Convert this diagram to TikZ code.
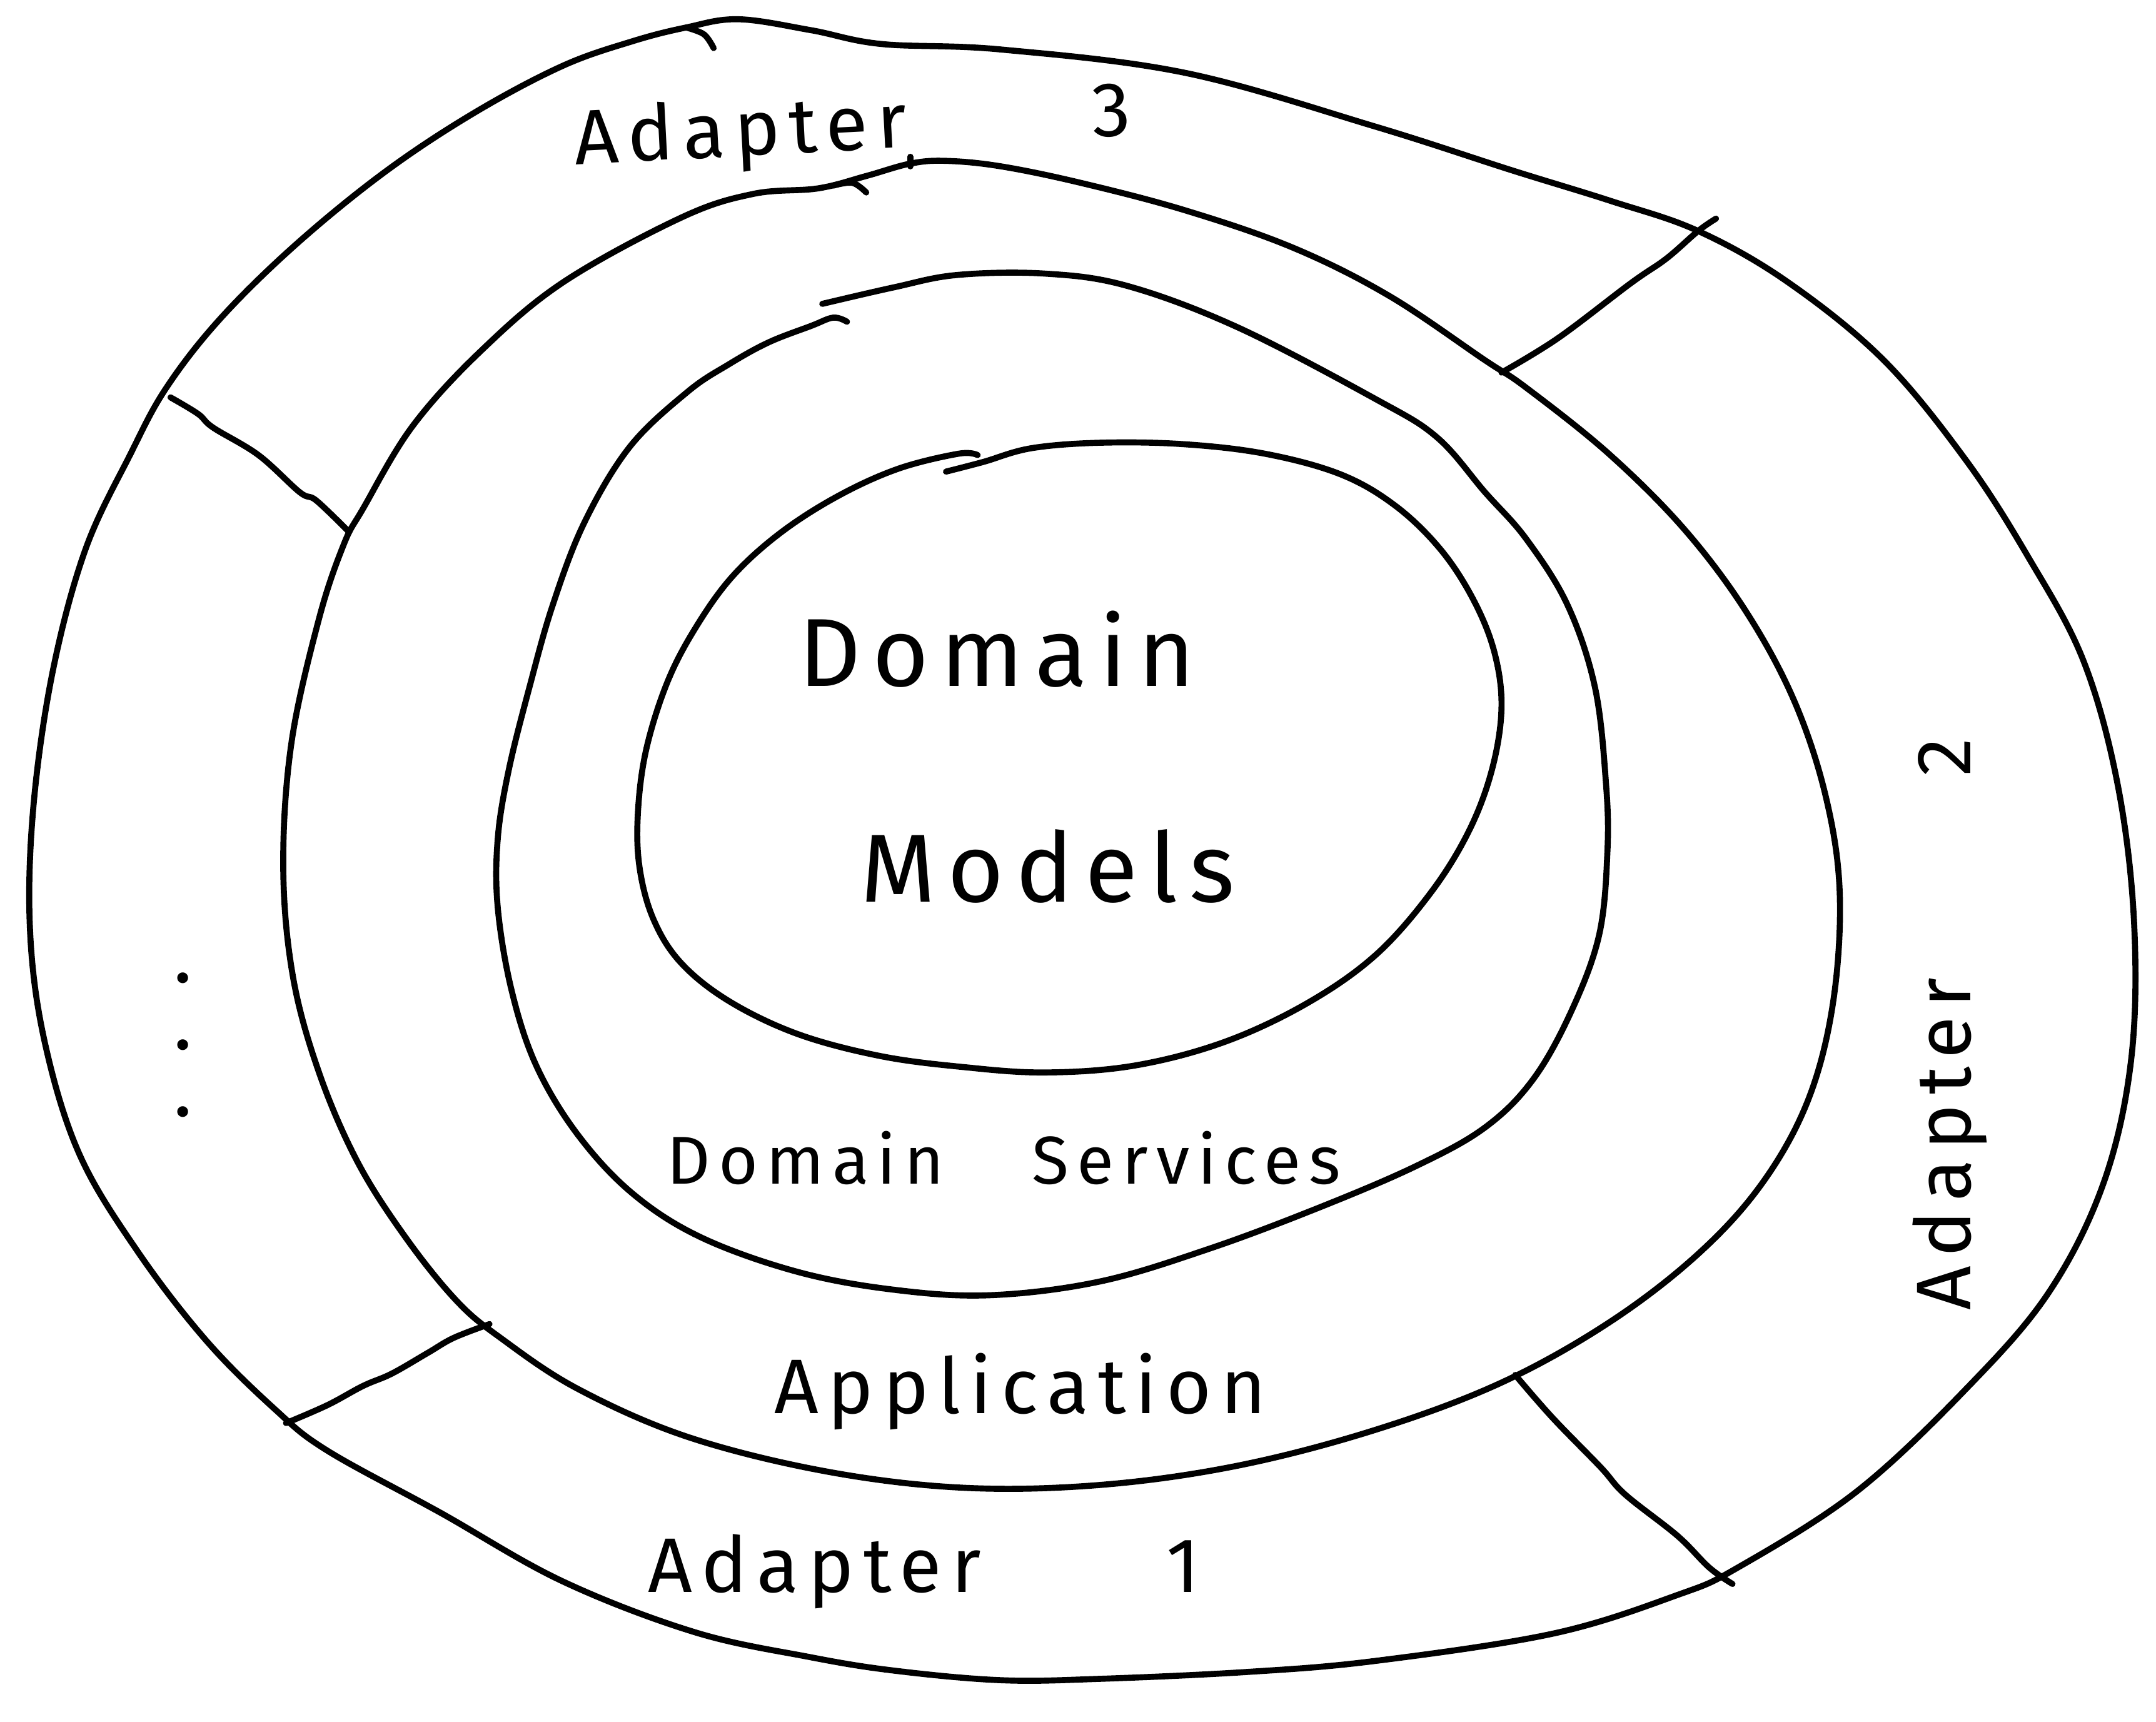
\documentclass[tikz,border=0pt]{standalone}
\usepackage{fontspec}
\newfontfamily\hand{Fira Sans}[LetterSpace=12]
\tikzset{
  pen/.style={line width=1.25pt, line cap=round, line join=round},
  ring/.style={pen, smooth cycle, tension=0.6},
  arc/.style={pen, smooth, tension=0.6},
  core/.style={font=\hand\fontsize{20}{22}\selectfont},
  layer/.style={font=\hand\fontsize{16}{18}\selectfont}
}
\begin{document}
\begin{tikzpicture}[x=0.1mm, y=-0.1mm]
      \useasboundingbox (0, 0) rectangle (1568, 1252);
      \begin{scope}
        % adapters, outer border
        \draw[ring] plot coordinates {(499, 20) (537, 14) (590, 22) (641, 32) (728, 36) (862, 53)
          (1000, 92) (1100, 124) (1171, 146) (1235, 168) (1300, 205) (1370, 262) (1430, 335)
          (1475, 405) (1515, 480) (1540, 570) (1552, 670) (1550, 770) (1530, 860) (1490, 940)
          (1430, 1010) (1350, 1085) (1264, 1140) (1220, 1160) (1130, 1188) (1000, 1208)
          (907, 1216) (800, 1221) (728, 1222) (650, 1215) (588, 1205) (505, 1187) (409, 1150)
          (320, 1100) (238, 1055) (200, 1025) (150, 975) (100, 910) (58, 840) (33, 760)
          (22, 680) (24, 590) (38, 490) (62, 400) (95, 330) (121, 282) (160, 232) (215, 178)
          (280, 125) (345, 82) (409, 48) (460, 30)};
        \draw[arc] plot coordinates {(499, 20) (512, 25) (519, 35)};
        % application
        \draw[ring] plot coordinates {(662, 119) (688, 117) (728, 121) (786, 133) (862, 153)
          (940, 180) (1010, 215) (1080, 262) (1110, 282) (1170, 330) (1225, 385) (1270, 445)
          (1305, 510) (1328, 580) (1338, 650) (1333, 730) (1315, 800) (1282, 860) (1235, 912)
          (1170, 962) (1091, 1006) (1000, 1040) (900, 1066) (800, 1080)
          (700, 1082) (600, 1070) (500, 1045) (420, 1010) (364, 973) (332, 946) (295, 900)
          (260, 845) (232, 780) (213, 710) (206, 630) (212, 540) (232, 450) (250, 396)
          (264, 370) (300, 310) (350, 255) (410, 205) (496, 158) (548, 141) (595, 137)
          (630, 128)};
        \draw[arc] plot coordinates {(606, 135) (620, 133) (630, 140)};
        \draw[pen] (662, 114) -- (662, 121);
        % domain services
        \draw[arc] plot coordinates {(598, 221) (650, 209) (696, 200) (760, 199) (820, 208)
          (900, 238) (1000, 290) (1045, 318) (1080, 358) (1110, 392) (1140, 440) (1160, 500)
          (1168, 570) (1169, 620) (1163, 680) (1143, 735) (1115, 785) (1080, 820) (1030, 848)
          (960, 878) (880, 908) (800, 932) (720, 942) (650, 938) (580, 925) (510, 900)
          (460, 868) (420, 825) (390, 775) (372, 720) (362, 660) (362, 610) (370, 560)
          (385, 500) (402, 440) (425, 380) (458, 325) (500, 285) (530, 265) (559, 249)
          (590, 237) (606, 231) (616, 234)};
        % domain models
        \draw[arc] plot coordinates {(688, 343) (715, 336) (750, 326) (800, 322) (860, 323)
          (920, 330) (975, 345) (1015, 368) (1048, 400) (1072, 437) (1087, 475) (1092, 515)
          (1085, 560) (1068, 605) (1040, 650) (1000, 695) (950, 730) (890, 758) (825, 775)
          (760, 780) (700, 776) (640, 768) (580, 752) (530, 728) (495, 700) (475, 668)
          (465, 630) (464, 590) (470, 545) (485, 497) (505, 458) (532, 420) (567, 388)
          (609, 361) (653, 341) (697, 330) (711, 331)};
        % borders between the adapters
        \draw[arc] plot coordinates {(1092, 271) (1133, 246) (1186, 206) (1212, 188) (1235, 168) (1248, 159)};
        \draw[arc] plot coordinates {(124, 289) (144, 301) (155, 311) (188, 331) (218, 358) (230, 364) (254, 387)};
        \draw[arc] plot coordinates {(208, 1035) (238, 1022) (264, 1008) (285, 999) (311, 984) (330, 973) (356, 963)};
        \draw[arc] plot coordinates {(1102, 1000) (1129, 1031) (1164, 1067) (1182, 1087) (1220, 1117) (1243, 1140) (1260, 1152)};
      \end{scope}
      \node[core] (domain) at (725, 472) {Domain};
      \node[core] (models) at (762, 630) {Models};
      \node[layer] (services) at (730, 842) {\fontsize{14}{16}\selectfont Domain\hspace{1.3em}Services};
      \node[layer] (application) at (742, 1012) {Application};
      \node[layer] (adapterA) at (672, 1143) {Adapter\hspace{2.4em}1};
      \node[layer, rotate=90] (adapterB) at (1418, 745) {Adapter\hspace{2.6em}2};
      \node[layer, rotate=3] (adapterC) at (620, 94) {Adapter\hspace{2.4em}3};
      \node[layer, rotate=-90] (more) at (133, 760) {.\hspace{10pt}.\hspace{10pt}.};
    \end{tikzpicture}
\end{document}
